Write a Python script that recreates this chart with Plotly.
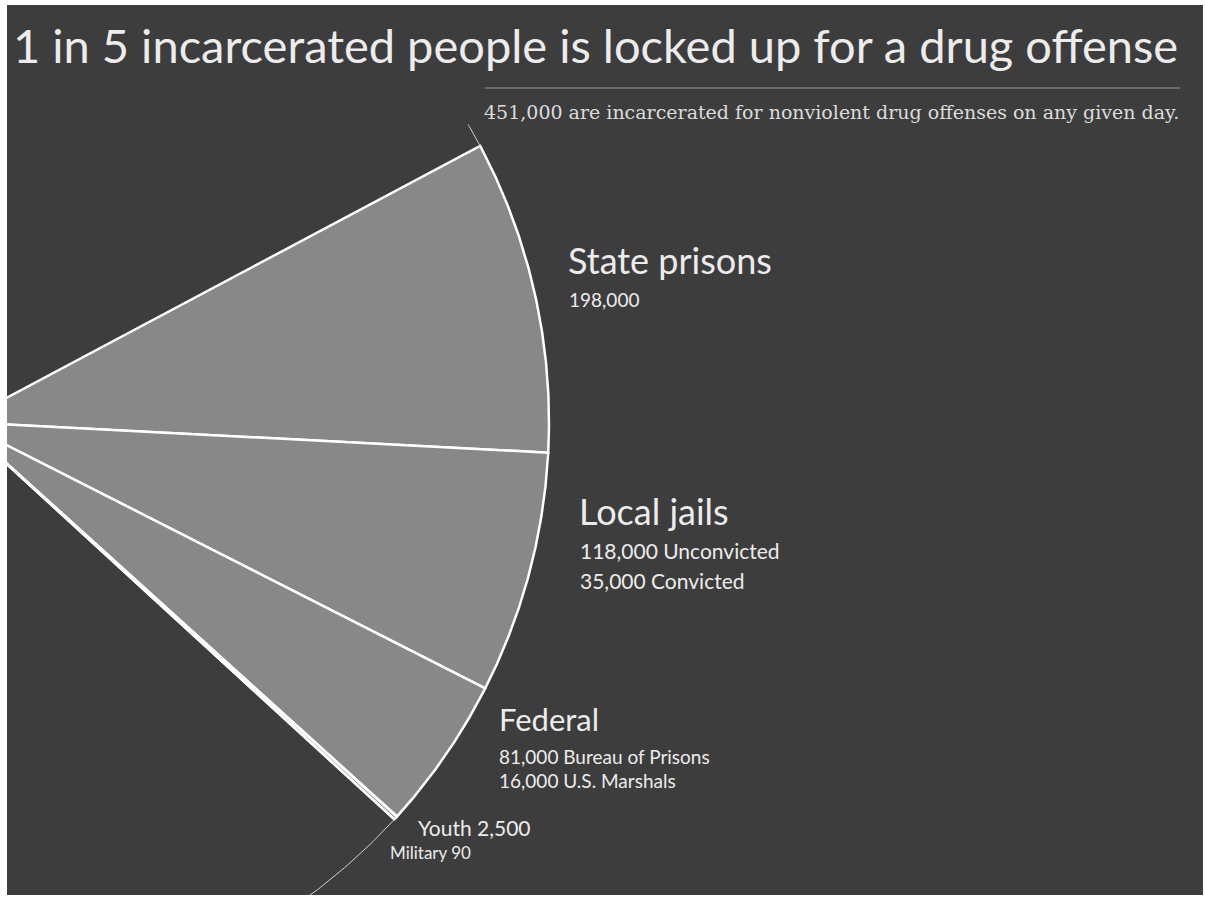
import numpy as np
import plotly.graph_objects as go

# Drug-offense population by system (from the chart labels)
categories = ["State prisons", "Local jails", "Federal", "Youth", "Military"]
state_prisons = [198000]
local_jails = [118000, 35000]          # unconvicted, convicted
local_labels = ["Unconvicted", "Convicted"]
federal = [81000, 16000]               # BOP, U.S. Marshals
federal_labels = ["Bureau of Prisons", "U.S. Marshals"]
youth = [2500]
military = [90]
total_incarcerated = 2300000           # whole pie ("1 in 5")

slice_values = [sum(state_prisons), sum(local_jails), sum(federal), sum(youth), sum(military)]
drug_total = sum(slice_values)

BG = "#3d3d3d"
WEDGE = "#888888"
TXT = "#ececec"
START_DEG = 28.0   # angle of the first wedge edge, going clockwise

# geometry (pixels): pie centre sits just off the left edge
CX, CY, R = -39.0, 422.0, 588.0
W, H = 1205, 898
ML, MR, MT, MB = 7, 2, 5, 3


def px(x, y):
    """pixel position -> data coords (pie radius = 1)"""
    return (x - CX) / R, (CY - y) / R


def arc(a0, a1, n=120):
    t = np.radians(np.linspace(a0, a1, n))
    return np.cos(t), np.sin(t)


fig = go.Figure()

# drug-offense wedges
angle = START_DEG
for name, val in zip(categories, slice_values):
    span = val / total_incarcerated * 360
    ax, ay = arc(angle, angle - span)
    xs = np.concatenate([[0], ax, [0]])
    ys = np.concatenate([[0], ay, [0]])
    fig.add_trace(go.Scatter(
        x=xs, y=ys, mode="lines", fill="toself", fillcolor=WEDGE,
        line=dict(color="white", width=2.5), name=name,
        hoverinfo="name", showlegend=False,
    ))
    angle -= span

# thin outline of the rest of the pie (only the bits near the wedge show)
for a0, a1 in [(angle, angle - 25), (START_DEG, START_DEG + 2.4)]:
    ax, ay = arc(a0, a1, 60)
    fig.add_trace(go.Scatter(x=ax, y=ay, mode="lines",
                             line=dict(color="#d0d0d0", width=1),
                             hoverinfo="skip", showlegend=False))


def label(x, y, text, size, family="Lato", color=TXT, anchor="left"):
    dx, dy = px(x, y)
    fig.add_annotation(x=dx, y=dy, text=text, showarrow=False, xanchor=anchor,
                       yanchor="middle", font=dict(family=family, size=size, color=color))


label(11, 45, "1 in 5 incarcerated people is locked up for a drug offense", 47, "Lato")
label(1181, 112, f"{round(drug_total, -3):,} are incarcerated for nonviolent drug offenses on any given day.",
      19, "DejaVu Serif", "#dcdcdc", anchor="right")
x0, y0 = px(485, 88)
x1, _ = px(1180, 88)
fig.add_shape(type="line", x0=x0, x1=x1, y0=y0, y1=y0, line=dict(color="#9a9a9a", width=1))

label(566, 260, categories[0], 36)
label(567, 299, f"{state_prisons[0]:,}", 19)

label(577, 511, categories[1], 36)
label(578, 550, f"{local_jails[0]:,} {local_labels[0]}", 21)
label(578, 580, f"{local_jails[1]:,} {local_labels[1]}", 21)

label(497, 719, categories[2], 31)
label(497, 756, f"{federal[0]:,} {federal_labels[0]}", 19)
label(497, 780, f"{federal[1]:,} {federal_labels[1]}", 19)

label(416, 827, f"{categories[3]} {youth[0]:,}", 21)
label(388, 852, f"{categories[4]} {military[0]:,}", 17)

xr = [(ML - CX) / R, (W - MR - CX) / R]
yr = [(CY - (H - MB)) / R, (CY - MT) / R]
fig.update_layout(
    width=W, height=H,
    margin=dict(l=ML, r=MR, t=MT, b=MB),
    paper_bgcolor="white", plot_bgcolor=BG,
    xaxis=dict(range=xr, visible=False, fixedrange=True),
    yaxis=dict(range=yr, visible=False, fixedrange=True),
    showlegend=False,
)
fig.write_html("out.html", config={"displayModeBar": False},
               post_script="document.body.style.margin='0';document.body.style.overflow='hidden';")
